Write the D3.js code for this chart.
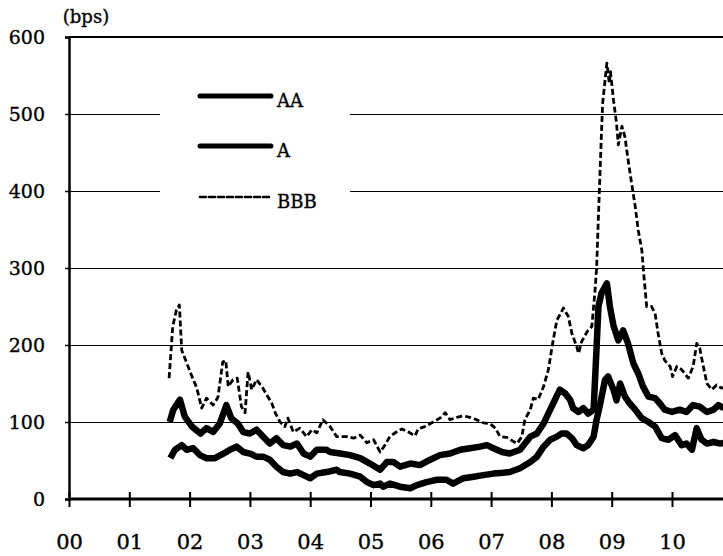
<!DOCTYPE html>
<html>
<head>
<meta charset="utf-8">
<script src="https://cdn.jsdelivr.net/npm/d3@7"></script>
<style>
  body { margin: 0; background: #fff; }
  svg { display: block; }
  svg text { stroke: #000; stroke-width: 0.35px; }
</style>
</head>
<body>
<div id="chart"></div>
<script>
// Tick values and labels
const years = [2000, 2001, 2002, 2003, 2004, 2005, 2006, 2007, 2008, 2009, 2010];
const yearLabels = ["00", "01", "02", "03", "04", "05", "06", "07", "08", "09", "10"];
const yTicks = [0, 100, 200, 300, 400, 500, 600];
const seriesNames = ["AA", "A", "BBB"];

// Spreads in bps, [decimal year, value]
const aaSpread = [
  [2001.68, 53], [2001.76, 64], [2001.87, 70], [2001.95, 64], [2002.06, 66], [2002.17, 57],
  [2002.28, 53], [2002.42, 53], [2002.56, 59], [2002.67, 64], [2002.78, 68], [2002.89, 61],
  [2003.00, 59], [2003.11, 55], [2003.22, 55], [2003.33, 51], [2003.44, 42], [2003.55, 35],
  [2003.67, 33], [2003.78, 35], [2003.89, 31], [2004.00, 27], [2004.11, 33], [2004.27, 35],
  [2004.44, 38], [2004.49, 35], [2004.66, 33], [2004.83, 29], [2004.94, 22], [2005.05, 18],
  [2005.16, 20], [2005.21, 16], [2005.32, 20], [2005.49, 16], [2005.66, 14], [2005.77, 18],
  [2005.93, 22], [2006.10, 25], [2006.26, 25], [2006.37, 20], [2006.54, 27], [2006.71, 29],
  [2006.87, 31], [2007.04, 33], [2007.20, 34], [2007.31, 35], [2007.48, 40], [2007.65, 48],
  [2007.76, 55], [2007.87, 68], [2007.98, 77], [2008.09, 81], [2008.17, 85], [2008.25, 85],
  [2008.34, 79], [2008.42, 70], [2008.53, 66], [2008.61, 70], [2008.70, 81], [2008.75, 103],
  [2008.81, 124], [2008.89, 155], [2008.94, 159], [2009.03, 142], [2009.08, 128], [2009.14, 150],
  [2009.22, 133], [2009.30, 124], [2009.39, 116], [2009.50, 105], [2009.61, 100], [2009.72, 94],
  [2009.83, 79], [2009.94, 77], [2010.05, 83], [2010.16, 70], [2010.24, 72], [2010.33, 64],
  [2010.41, 92], [2010.49, 77], [2010.58, 72], [2010.69, 74], [2010.80, 72], [2010.86, 73]
];

const aSpread = [
  [2001.67, 100], [2001.73, 116], [2001.84, 129], [2001.92, 107], [2002.04, 94], [2002.18, 85],
  [2002.28, 92], [2002.39, 87], [2002.50, 98], [2002.61, 122], [2002.69, 105], [2002.80, 98],
  [2002.89, 87], [2003.00, 85], [2003.11, 90], [2003.22, 81], [2003.33, 72], [2003.44, 79],
  [2003.55, 70], [2003.67, 68], [2003.78, 72], [2003.89, 59], [2004.00, 55], [2004.11, 64],
  [2004.27, 64], [2004.33, 61], [2004.50, 59], [2004.66, 57], [2004.83, 53], [2004.99, 46],
  [2005.16, 38], [2005.27, 48], [2005.38, 48], [2005.49, 42], [2005.66, 46], [2005.82, 44],
  [2005.99, 51], [2006.15, 57], [2006.32, 59], [2006.49, 64], [2006.65, 66], [2006.82, 68],
  [2006.93, 70], [2007.04, 66], [2007.18, 61], [2007.31, 59], [2007.48, 64], [2007.65, 81],
  [2007.76, 85], [2007.87, 98], [2007.98, 116], [2008.06, 129], [2008.14, 142], [2008.23, 137],
  [2008.31, 129], [2008.36, 118], [2008.45, 113], [2008.53, 118], [2008.61, 111], [2008.70, 116],
  [2008.75, 198], [2008.78, 250], [2008.83, 267], [2008.92, 280], [2008.97, 250], [2009.03, 225],
  [2009.11, 206], [2009.19, 219], [2009.27, 202], [2009.36, 176], [2009.44, 163], [2009.52, 146],
  [2009.61, 133], [2009.72, 131], [2009.80, 124], [2009.88, 116], [2010.00, 113], [2010.13, 116],
  [2010.24, 113], [2010.35, 122], [2010.46, 120], [2010.58, 113], [2010.69, 116], [2010.77, 122],
  [2010.86, 118]
];

const bbbSpread = [
  [2001.66, 157], [2001.72, 224], [2001.78, 245], [2001.83, 252], [2001.87, 193], [2001.92, 183],
  [2002.04, 159], [2002.12, 144], [2002.20, 118], [2002.28, 131], [2002.39, 122], [2002.47, 132],
  [2002.55, 178], [2002.60, 180], [2002.64, 146], [2002.72, 155], [2002.79, 157], [2002.86, 120],
  [2002.92, 112], [2002.97, 165], [2003.03, 142], [2003.11, 155], [2003.20, 146], [2003.28, 135],
  [2003.36, 125], [2003.42, 112], [2003.50, 100], [2003.58, 94], [2003.63, 105], [2003.72, 87],
  [2003.83, 92], [2003.94, 81], [2004.03, 90], [2004.11, 86], [2004.21, 103], [2004.33, 94],
  [2004.44, 81], [2004.61, 81], [2004.72, 79], [2004.83, 83], [2004.94, 73], [2005.05, 77],
  [2005.16, 61], [2005.24, 70], [2005.32, 81], [2005.43, 87], [2005.52, 91], [2005.63, 87],
  [2005.74, 82], [2005.79, 91], [2005.90, 94], [2006.04, 100], [2006.15, 105], [2006.24, 112],
  [2006.32, 103], [2006.43, 106], [2006.54, 108], [2006.65, 106], [2006.76, 103], [2006.87, 99],
  [2006.98, 98], [2007.07, 92], [2007.15, 81], [2007.26, 80], [2007.43, 72], [2007.51, 81],
  [2007.56, 103], [2007.65, 116], [2007.70, 131], [2007.78, 129], [2007.87, 146], [2007.95, 168],
  [2008.02, 202], [2008.09, 232], [2008.20, 248], [2008.28, 237], [2008.34, 215], [2008.42, 198],
  [2008.45, 189], [2008.50, 204], [2008.59, 217], [2008.67, 224], [2008.72, 267], [2008.75, 300],
  [2008.78, 367], [2008.81, 432], [2008.83, 475], [2008.85, 514], [2008.89, 544], [2008.92, 566],
  [2008.96, 540], [2008.98, 555], [2009.03, 518], [2009.08, 488], [2009.11, 460], [2009.17, 484],
  [2009.22, 470], [2009.28, 436], [2009.33, 410], [2009.39, 380], [2009.44, 349], [2009.50, 323],
  [2009.53, 293], [2009.58, 250], [2009.66, 250], [2009.72, 241], [2009.77, 215], [2009.83, 189],
  [2009.88, 180], [2009.97, 172], [2010.01, 159], [2010.08, 172], [2010.16, 168], [2010.27, 157],
  [2010.35, 172], [2010.41, 202], [2010.46, 196], [2010.52, 172], [2010.58, 150], [2010.66, 142],
  [2010.74, 148], [2010.82, 144], [2010.86, 145]
];

// Set up dimensions
const width = 723;
const height = 556;
const plotLeft = 69;
const plotTop = 37;
const plotBottom = 499;
const serifFont = "'DejaVu Serif', serif";

const svg = d3
  .select("#chart")
  .append("svg")
  .attr("width", width)
  .attr("height", height)
  .style("font-family", serifFont);

// Scales
const xScale = d3.scaleLinear().domain([2000, 2011]).range([plotLeft, plotLeft + 11 * 60.3]);
const yScale = d3.scaleLinear().domain([0, 600]).range([plotBottom, plotTop]);

// Gridlines
svg.append("g")
  .attr("shape-rendering", "crispEdges")
  .selectAll("line")
  .data(yTicks.filter(d => d > 0))
  .enter()
  .append("line")
  .attr("x1", plotLeft)
  .attr("x2", width)
  .attr("y1", d => yScale(d))
  .attr("y2", d => yScale(d))
  .style("stroke", "#000")
  .style("stroke-width", d => (d === 600 ? 2.5 : 1));

// Legend background hides the gridlines behind it
svg.append("rect")
  .attr("x", 160)
  .attr("y", 62)
  .attr("width", 190)
  .attr("height", 160)
  .style("fill", "#fff");

// Y axis
const yAxis = svg.append("g")
  .attr("transform", `translate(${plotLeft},0)`)
  .call(d3.axisLeft(yScale).tickValues(yTicks).tickSize(4).tickPadding(20));
yAxis.select(".domain").style("stroke", "#000").style("stroke-width", 2.5);
yAxis.selectAll(".tick line").style("stroke", "#000").style("stroke-width", 1.5);
yAxis.selectAll("text")
  .style("font-family", serifFont)
  .style("font-size", "19px")
  .style("fill", "#000");

// X axis
svg.append("line")
  .attr("x1", plotLeft)
  .attr("x2", width)
  .attr("y1", plotBottom)
  .attr("y2", plotBottom)
  .style("stroke", "#000")
  .style("stroke-width", 3);

const xAxis = svg.append("g")
  .attr("transform", `translate(0,${plotBottom - 7})`)
  .call(
    d3.axisBottom(xScale)
      .tickValues(years)
      .tickSize(15)
      .tickFormat((d, i) => yearLabels[i])
  );
xAxis.select(".domain").remove();
xAxis.selectAll(".tick line").style("stroke", "#000").style("stroke-width", 2);
xAxis.selectAll("text")
  .attr("y", 50)
  .attr("dy", "0.35em")
  .style("font-family", serifFont)
  .style("font-size", "21px")
  .style("fill", "#000");

// Unit label
svg.append("text")
  .attr("x", 86)
  .attr("y", 23)
  .style("text-anchor", "middle")
  .style("font-family", serifFont)
  .style("font-size", "18px")
  .text("(bps)");

// Lines
const line = d3
  .line()
  .x(d => xScale(d[0]))
  .y(d => yScale(d[1]));

const seriesStyles = [
  { data: aaSpread, width: 6.5, legendWidth: 5, dash: null },
  { data: aSpread, width: 6.5, legendWidth: 5, dash: null },
  { data: bbbSpread, width: 2.8, legendWidth: 2.6, dash: "6,3" }
];

seriesStyles.forEach(s => {
  svg.append("path")
    .datum(s.data)
    .attr("d", line)
    .style("fill", "none")
    .style("stroke", "#000")
    .style("stroke-width", s.width)
    .style("stroke-linejoin", "round")
    .style("stroke-dasharray", s.dash);
});

// Legend
const legendY = [96, 146, 197];
const legend = svg.append("g");

seriesNames.forEach((name, i) => {
  legend.append("line")
    .attr("x1", 200)
    .attr("x2", 271)
    .attr("y1", legendY[i])
    .attr("y2", legendY[i])
    .style("stroke", "#000")
    .style("stroke-width", seriesStyles[i].legendWidth)
    .style("stroke-linecap", "round")
    .style("stroke-dasharray", seriesStyles[i].dash);

  legend.append("text")
    .attr("x", 277)
    .attr("y", legendY[i] + 5)
    .attr("dy", "0.35em")
    .style("font-family", serifFont)
    .style("font-size", "18px")
    .text(name);
});
</script>
</body>
</html>
